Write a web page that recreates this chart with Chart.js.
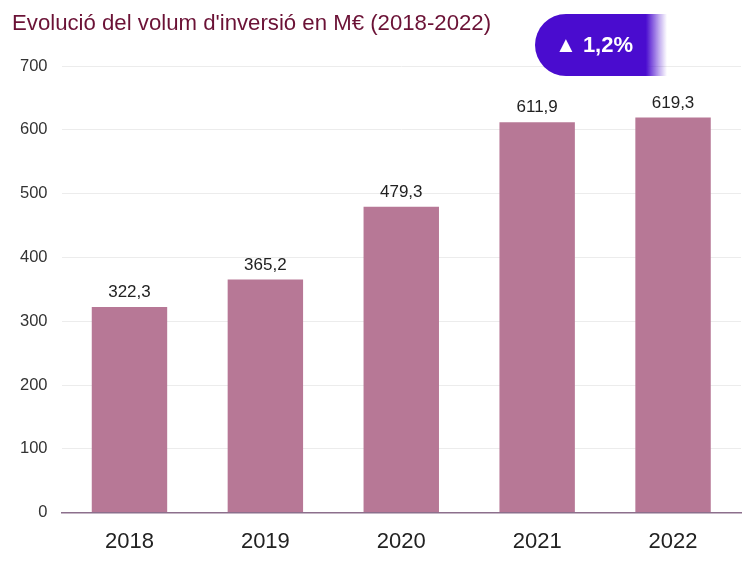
<!DOCTYPE html>
<html>
<head>
<meta charset="utf-8">
<script src="https://cdn.jsdelivr.net/npm/chart.js@4.4.1/dist/chart.umd.min.js"></script>
<style>
  html, body { margin: 0; padding: 0; background: #fff; overflow: hidden; }
  #wrap { position: relative; width: 750px; height: 567px; overflow: hidden; font-family: "Liberation Sans", Arial, sans-serif; }
  #title { position: absolute; left: 12px; top: 10px; font-size: 22.2px; color: #6b1236; white-space: nowrap; }
  #badge {
    position: absolute; left: 535px; top: 14px; width: 132px; height: 62px;
    border-radius: 31px 0 0 31px;
    background: linear-gradient(to right, #4a0ccf 0%, #4a0ccf 84%, rgba(74,12,207,0.35) 94%, rgba(255,255,255,0) 100%);
    color: #fff; font-weight: bold; font-size: 22px; line-height: 62px;
    padding-left: 20px; box-sizing: border-box; white-space: nowrap;
  }
  canvas { position: absolute; left: 0; top: 0; }
</style>
</head>
<body>
<div id="wrap">
  <canvas id="chart" width="750" height="573"></canvas>
  <div id="title">Evolució del volum d'inversió en M€ (2018-2022)</div>
  <div id="badge">▲ 1,2%</div>
</div>
<script>
// ===== DATA =====
const years = ['2018', '2019', '2020', '2021', '2022'];
const volume = [322.3, 365.2, 479.3, 611.9, 619.3];
const yTicks = [0, 100, 200, 300, 400, 500, 600, 700];

const BAR_COLOR = '#b77896';

// value labels above bars, comma decimal
const barLabels = {
  id: 'barLabels',
  afterDatasetsDraw(chart) {
    const ctx = chart.ctx;
    const meta = chart.getDatasetMeta(0);
    ctx.save();
    ctx.font = '17px "Liberation Sans", Arial, sans-serif';
    ctx.fillStyle = '#222';
    ctx.textAlign = 'center';
    ctx.textBaseline = 'bottom';
    meta.data.forEach((bar, i) => {
      ctx.fillText(volume[i].toFixed(1).replace('.', ','), bar.x, bar.y - 6);
    });
    ctx.restore();
  }
};

new Chart(document.getElementById('chart'), {
  type: 'bar',
  data: {
    labels: years,
    datasets: [{
      data: volume,
      backgroundColor: BAR_COLOR,
      borderWidth: 0,
      categoryPercentage: 1,
      barPercentage: 0.555
    }]
  },
  options: {
    responsive: false,
    animation: false,
    layout: { padding: { top: 66, right: 9, left: 6, bottom: 2 } },
    plugins: {
      legend: { display: false },
      tooltip: { enabled: false }
    },
    scales: {
      y: {
        min: 0,
        max: 700,
        afterBuildTicks(axis) { axis.ticks = yTicks.map(v => ({ value: v })); },
        grid: { color: '#ececec', drawTicks: false },
        border: { display: false },
        ticks: {
          padding: 14,
          color: '#333',
          font: { size: 16.5, family: '"Liberation Sans", Arial, sans-serif' }
        }
      },
      x: {
        grid: { display: false, drawTicks: false },
        border: { display: true, color: '#8c6f8c', width: 1.5 },
        ticks: {
          padding: 16,
          color: '#222',
          font: { size: 22, family: '"Liberation Sans", Arial, sans-serif' }
        }
      }
    }
  },
  plugins: [barLabels]
});
</script>
</body>
</html>
